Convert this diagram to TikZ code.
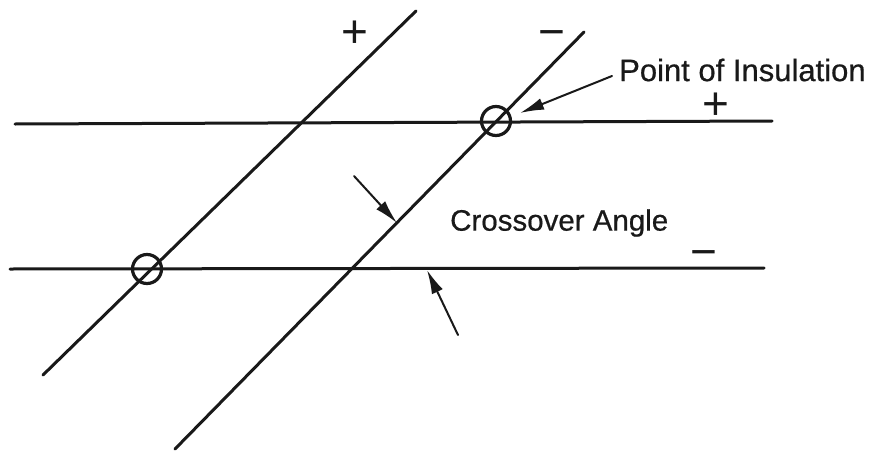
\documentclass[tikz,border=0pt]{standalone}
\usepackage{fontspec}
\setmainfont{Liberation Sans}
\newfontfamily\labfont[FakeBold=0.6]{Liberation Sans}
\usetikzlibrary{arrows.meta}
\tikzset{
  wire/.style={line width=3pt,line cap=round,black!90},
  ring/.style={circle,draw=black!90,line width=3.2pt,minimum size=29pt,inner sep=0pt},
  pointer/.style={line width=2pt,black!90,line cap=round,-{Latex[length=24pt,width=12pt]}},
  lab/.style={inner sep=0pt,anchor=west,font=\labfont\fontsize{31}{34}\selectfont,text=black!90},
  labb/.style={inner sep=0pt,anchor=west,font=\labfont\fontsize{29.5}{32}\selectfont,text=black!90},
  sign/.style={inner sep=0pt,font=\fontsize{46}{48}\selectfont,text=black!90}
}
\begin{document}
\begin{tikzpicture}[x=1pt,y=-1pt]
\useasboundingbox (0,0) rectangle (878,450);
\coordinate (h1a) at (15,124); \coordinate (h1b) at (772,121);
\coordinate (h2a) at (10,269); \coordinate (h2b) at (764,268);
\coordinate (d1a) at (43,375); \coordinate (d1b) at (416,11);
\coordinate (d2a) at (175,449); \coordinate (d2b) at (584,32);
\draw[wire] (h1a) -- (h1b);
\draw[wire] (h2a) -- (h2b);
\draw[wire] (d1a) -- (d1b);
\draw[wire] (d2a) -- (d2b);
\node[ring] (c1) at (496,121) {};
\node[ring] (c2) at (147,269) {};
\node[lab] (t1) at (619,70) {Point of Insulation};
\node[labb] (t2) at (450,223) {Crossover Angle};
\node[sign] (p1) at (355,34) {+};
\node[sign] (m1) at (552,39) {−};
\node[sign] (p2) at (716,106) {+};
\node[sign] (m2) at (704,259) {−};
\coordinate (a1s) at (612,76); \coordinate (a1e) at (520,113);
\coordinate (a2s) at (354,176); \coordinate (a2e) at (397,223);
\coordinate (a3s) at (458,335); \coordinate (a3e) at (427,270);
\draw[pointer] (a1s) -- (a1e);
\draw[pointer] (a2s) -- (a2e);
\draw[pointer] (a3s) -- (a3e);
\end{tikzpicture}
\end{document}
